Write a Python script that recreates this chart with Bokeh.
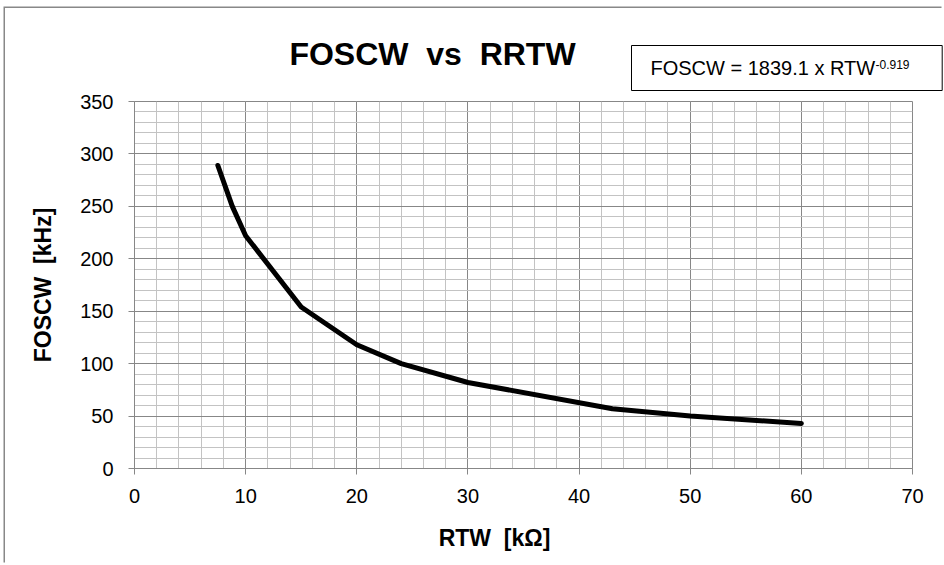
from bokeh.plotting import figure
from bokeh.models import Range1d, SingleIntervalTicker, Label
from bokeh.embed import file_html
from bokeh.resources import INLINE

# ---- data ----
rtw_kohm = [7.5, 8.8, 10, 15, 20, 24, 30, 43, 50, 60]
foscw_khz = [289, 250, 222, 154, 118, 100, 82, 57, 50, 43]

x_ticks_interval = 10
y_ticks_interval = 50
NB = "\u00a0"
title_text = "FOSCW" + NB + " vs" + NB + " RRTW"
eq_main = "FOSCW = 1839.1 x RTW"
eq_exp = "-0.919"
x_label = "RTW" + NB + " [k\u03a9]"
y_label = "FOSCW" + NB + " [kHz]"

FONT = "Liberation Sans"
MAJOR = "#878787"
MINOR = "#c3c3c3"

# page placement: figure offset by margins, frame at page x 134..912, y 101..468
ML, MT = 5, 8
W, H = 938, 556
FL, FR, FT, FB = 134, 912, 101, 468
L, R, T, B = FL - ML, (ML + W) - FR, FT - MT, (MT + H) - FB
X0, X1, Y0, Y1 = 0, 70, 0, 350


def dx(px):  # page px -> data x
    return X0 + (px - FL) * (X1 - X0) / (FR - FL)


def dy(py):  # page py -> data y
    return Y0 + (FB - py) * (Y1 - Y0) / (FB - FT)


p = figure(width=W, height=H, output_backend="svg", toolbar_location=None,
           x_range=Range1d(X0, X1), y_range=Range1d(Y0, Y1),
           min_border_left=L, min_border_right=R, min_border_top=T, min_border_bottom=B,
           background_fill_color="white", border_fill_color="white")
p.margin = (MT, 0, 0, ML)
p.styles = {"box-shadow": "-1.5px -1.5px 0px 0px #888888"}

p.outline_line_color = MAJOR
p.outline_line_width = 1

xt = SingleIntervalTicker(interval=x_ticks_interval, num_minor_ticks=5)
yt = SingleIntervalTicker(interval=y_ticks_interval, num_minor_ticks=5)
p.xaxis.ticker = xt
p.yaxis.ticker = yt
p.xgrid.ticker = xt
p.ygrid.ticker = yt

for g in (p.xgrid, p.ygrid):
    g.grid_line_color = MAJOR
    g.grid_line_width = 1
    g.minor_grid_line_color = MINOR
    g.minor_grid_line_width = 1

for ax in (p.xaxis, p.yaxis):
    ax.axis_line_color = MAJOR
    ax.axis_line_width = 1
    ax.major_tick_line_color = MAJOR
    ax.major_tick_in = 0
    ax.major_tick_out = 6
    ax.minor_tick_in = 0
    ax.minor_tick_out = 0
    ax.major_label_text_font = FONT
    ax.major_label_text_font_size = "20px"
    ax.major_label_text_color = "black"

p.xaxis.major_label_standoff = 14
p.yaxis.major_label_standoff = 15

p.yaxis.axis_label = y_label
p.yaxis.axis_label_text_font = FONT
p.yaxis.axis_label_text_font_style = "bold"
p.yaxis.axis_label_text_font_size = "23px"
p.yaxis.axis_label_text_color = "black"
p.yaxis.axis_label_standoff = 21

# curve
p.line(rtw_kohm, foscw_khz, line_color="black", line_width=5,
       line_cap="round", line_join="round")

# title (side panel so it is not clipped to the frame)
p.add_layout(Label(x=dx(432), y=dy(53), text=title_text, text_align="center",
                   text_baseline="middle", text_font=FONT, text_font_style="bold",
                   text_font_size="32px", text_color="black"), "above")

# equation in a box (box anchored at its left edge / vertical centre)
p.add_layout(Label(x=dx(631), y=dy(67.5), text=eq_main, text_align="left",
                   text_baseline="middle", text_font=FONT, text_font_size="20px",
                   text_color="black", background_fill_color="white",
                   border_line_color="black", border_line_width=1,
                   padding=(19, 67, 11, 12)), "above")
p.add_layout(Label(x=dx(875), y=dy(64), text=eq_exp, text_align="left",
                   text_baseline="middle", text_font=FONT, text_font_size="12px",
                   text_color="black"), "below")

# x axis label
p.add_layout(Label(x=dx(494), y=dy(537.5), text=x_label, text_align="center",
                   text_baseline="middle", text_font=FONT, text_font_style="bold",
                   text_font_size="23px", text_color="black"), "below")

open("out.html", "w").write(file_html(p, INLINE))
